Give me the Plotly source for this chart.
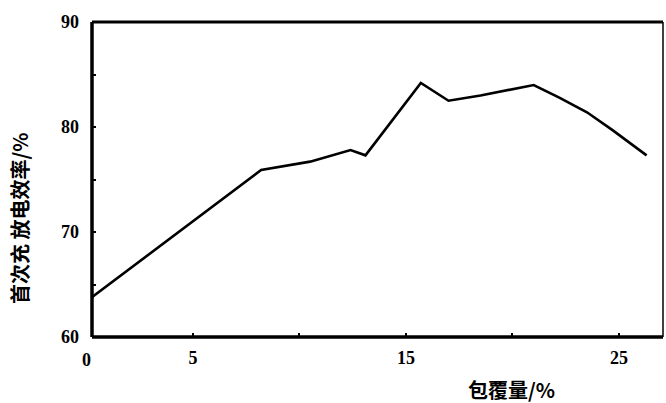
import plotly.graph_objects as go

# data
coating = [0, 8.2, 10.5, 12.4, 13.1, 15.7, 17.0, 18.5, 21.0, 22.2, 23.5, 24.7, 26.3]
efficiency = [63.4, 75.9, 76.7, 77.8, 77.3, 84.2, 82.5, 83.0, 84.0, 82.8, 81.4, 79.7, 77.3]

x_tickvals = [5, 10, 15, 20, 25]
x_ticktext = ["5", "", "15", "", "25"]
y_tickvals = [60, 65, 70, 75, 80, 85, 90]
y_ticktext = ["60", "", "70", "", "80", "", "90"]

x_title = "包覆量/%"
y_title = "首次充 放电效率/%"

num_font = dict(family="Liberation Serif", size=18, color="black", weight="bold")
cjk_font = dict(family="Noto Sans CJK SC", size=20, color="black", weight="bold")

X0, X1 = 0.26, 27.07
L, R, T, B = 92, 3, 22, 66
W, H = 666, 403
pw, ph = W - L - R, H - T - B

fig = go.Figure()
fig.add_trace(go.Scatter(x=coating, y=efficiency, mode="lines",
                         line=dict(color="black", width=2.6), showlegend=False))

fig.update_layout(
    width=W, height=H,
    margin=dict(l=L, r=R, t=T, b=B),
    paper_bgcolor="white", plot_bgcolor="white",
    xaxis=dict(range=[X0, X1], tickvals=x_tickvals, ticktext=x_ticktext,
               ticks="inside", ticklen=4, tickwidth=2, tickcolor="black",
               showgrid=False, zeroline=False, showline=False,
               tickfont=num_font, ticklabelstandoff=8),
    yaxis=dict(range=[60, 90], tickvals=y_tickvals, ticktext=y_ticktext,
               ticks="inside", ticklen=4, tickwidth=2, tickcolor="black",
               showgrid=False, zeroline=False, showline=False,
               tickfont=num_font, ticklabelstandoff=12),
)

# frame
fig.add_shape(type="line", xref="paper", yref="paper", x0=0, x1=0, y0=0, y1=1,
              line=dict(color="black", width=3.5))
fig.add_shape(type="line", xref="paper", yref="paper", x0=0, x1=1, y0=0, y1=0,
              line=dict(color="black", width=3.5))
fig.add_shape(type="line", xref="paper", yref="paper", x0=0, x1=1, y0=1, y1=1,
              line=dict(color="black", width=3))
fig.add_shape(type="line", xref="paper", yref="paper", x0=1, x1=1, y0=0, y1=1,
              line=dict(color="black", width=1.5))

# "0" tick label at the origin (x=0 lies just left of the frame)
fig.add_annotation(x=(0 - X0) / (X1 - X0), y=0, xref="paper", yref="paper", text="0",
                   showarrow=False, xanchor="center", yanchor="top", yshift=-11,
                   font=num_font)

def px2paper(px, py):
    return (px - L) / pw, (H - B - py) / ph

ax, ay = px2paper(511, 389)
fig.add_annotation(x=ax, y=ay, xref="paper", yref="paper", text=x_title,
                   showarrow=False, font=cjk_font, xanchor="center", yanchor="middle")
ax, ay = px2paper(19, 218)
fig.add_annotation(x=ax, y=ay, xref="paper", yref="paper", text=y_title, textangle=-90,
                   showarrow=False, font=cjk_font, xanchor="center", yanchor="middle")

fig.write_html("out.html", config={"displayModeBar": False},
               post_script="document.body.style.margin='0';")
